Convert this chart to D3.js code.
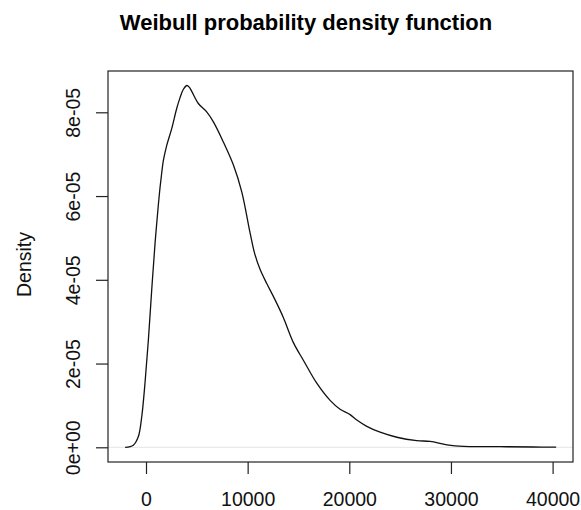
<!DOCTYPE html>
<html>
<head>
<meta charset="utf-8">
<script src="https://cdn.jsdelivr.net/npm/d3@7"></script>
<style>
  html, body { margin: 0; padding: 0; background: #fff; }
  svg { display: block; font-family: "Liberation Sans", Arial, Helvetica, sans-serif; }
</style>
</head>
<body>
<svg id="chart" width="581" height="510"></svg>
<script>
// ---- data ----
const title = "Weibull probability density function";
const yLabel = "Density";
const xValues = [-2050, -1250, -760, -420, -100, 230, 560, 890, 1210, 1380, 1545, 1710, 2040, 2530, 3020, 3350, 3680, 4030, 4250, 4500, 5150, 5970, 6630, 7610, 8600, 9420, 10240, 10700, 11220, 11880, 12700, 13510, 14500, 15480, 16800, 18110, 19090, 20080, 20740, 21720, 23030, 24680, 26640, 27950, 29600, 31230, 34840, 38090, 40350];
const densityE5 = [0, 0.05, 0.25, 0.73, 1.53, 2.55, 3.75, 4.87, 5.78, 6.2, 6.55, 6.85, 7.21, 7.61, 8.09, 8.35, 8.55, 8.64, 8.60, 8.50, 8.21, 8.01, 7.77, 7.29, 6.74, 6.10, 5.12, 4.62, 4.25, 3.91, 3.52, 3.10, 2.50, 2.08, 1.53, 1.12, 0.91, 0.78, 0.65, 0.50, 0.36, 0.24, 0.16, 0.14, 0.06, 0.02, 0.015, 0.007, 0.003];
const xTicks = [0, 10000, 20000, 30000, 40000];
const xTickLabels = ["0", "10000", "20000", "30000", "40000"];
const yTicks = [0, 2e-5, 4e-5, 6e-5, 8e-5];
const yTickLabels = ["0e+00", "2e-05", "4e-05", "6e-05", "8e-05"];

const points = xValues.map((v, i) => ({ x: v, y: densityE5[i] * 1e-5 }));

// ---- layout ----
const box = { left: 108, top: 71, right: 573, bottom: 462 };
const svg = d3.select("#chart");

const x = d3.scaleLinear().domain([0, 40000]).range([146, 552.6]);
const y = d3.scaleLinear().domain([0, 8e-5]).range([447.3, 112.3]);

// zero reference line
svg.append("line")
  .attr("x1", box.left).attr("x2", box.right)
  .attr("y1", y(0)).attr("y2", y(0))
  .attr("stroke", "#e4e4e4").attr("stroke-width", 1);

// density curve
const line = d3.line().x(d => x(d.x)).y(d => y(d.y)).curve(d3.curveCatmullRom.alpha(0.5));
svg.append("path")
  .datum(points)
  .attr("d", line)
  .attr("fill", "none")
  .attr("stroke", "#111")
  .attr("stroke-width", 1.3);

// box
svg.append("rect")
  .attr("x", box.left).attr("y", box.top)
  .attr("width", box.right - box.left).attr("height", box.bottom - box.top)
  .attr("fill", "none").attr("stroke", "#222").attr("stroke-width", 1.2);

// x axis
const xAxis = svg.append("g")
  .attr("transform", `translate(0,${box.bottom})`)
  .call(d3.axisBottom(x).tickValues(xTicks).tickSize(12).tickSizeOuter(0)
    .tickFormat((d, i) => xTickLabels[i]));
xAxis.select(".domain").remove();
xAxis.selectAll("line").attr("stroke", "#222").attr("stroke-width", 1.2);
xAxis.selectAll("text")
  .attr("y", 44).attr("dy", 0)
  .attr("font-size", "19.5px").attr("fill", "#111")
  .attr("font-family", "'Liberation Sans', Arial, sans-serif");

// y axis
const yAxis = svg.append("g")
  .attr("transform", `translate(${box.left},0)`)
  .call(d3.axisLeft(y).tickValues(yTicks).tickSize(12).tickSizeOuter(0)
    .tickFormat((d, i) => yTickLabels[i]));
yAxis.select(".domain").remove();
yAxis.selectAll("line").attr("stroke", "#222").attr("stroke-width", 1.2);
yAxis.selectAll("text")
  .attr("x", 0).attr("y", 0).attr("dy", 0)
  .attr("text-anchor", "middle")
  .attr("transform", "translate(-28,0) rotate(-90)")
  .attr("font-size", "19.5px").attr("fill", "#111")
  .attr("font-family", "'Liberation Sans', Arial, sans-serif");

// y label
svg.append("text")
  .attr("transform", `translate(31,${(box.top + box.bottom) / 2 - 2}) rotate(-90)`)
  .attr("text-anchor", "middle")
  .attr("font-size", "19.5px").attr("fill", "#111")
  .text(yLabel);

// title
svg.append("text")
  .attr("x", 306).attr("y", 29.5)
  .attr("text-anchor", "middle")
  .attr("font-size", "22px").attr("font-weight", "bold").attr("fill", "#000")
  .text(title);
</script>
</body>
</html>
